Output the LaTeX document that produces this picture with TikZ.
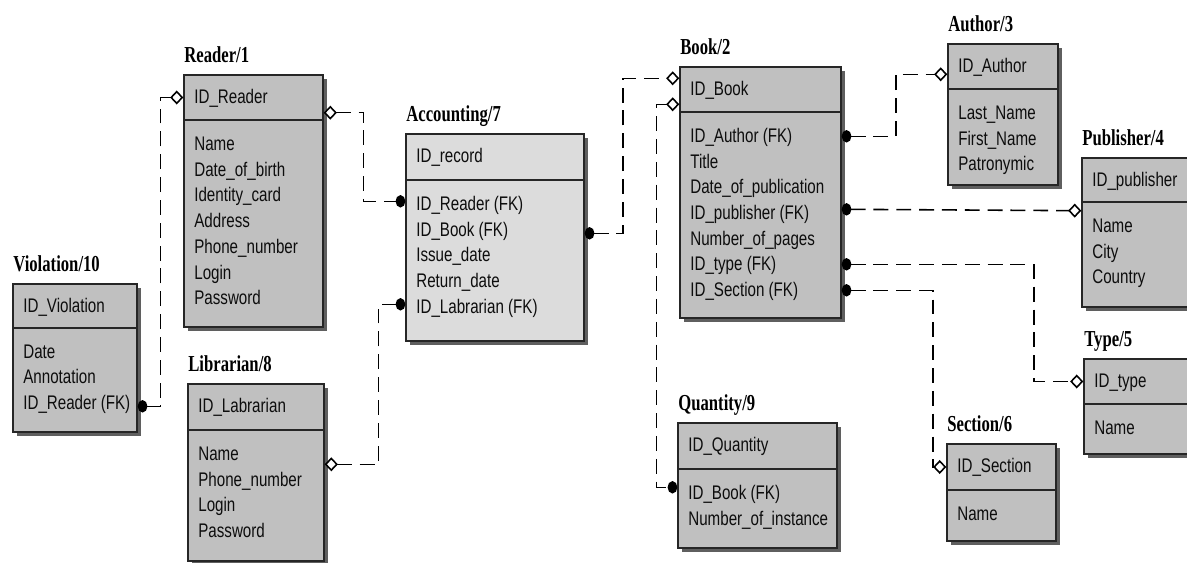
\documentclass[tikz,border=0pt]{standalone}
\usepackage{fontspec}
\setmainfont{Liberation Sans}[FakeStretch=0.77]
\newfontfamily\ttlfont{Liberation Serif}[FakeStretch=0.73]
\usetikzlibrary{arrows.meta,calc,fit,shadows}
\definecolor{boxgray}{RGB}{192,192,192}
\definecolor{acclight}{RGB}{220,220,220}
\definecolor{shadowgray}{RGB}{95,95,95}
\tikzset{
  tbl/.style={draw=black!85, fill=boxgray, line width=0.8pt, inner sep=0pt,
    general shadow={fill=shadowgray, draw=none, shadow xshift=2.3pt, shadow yshift=-2.3pt}},
  ttl/.style={anchor=base west, inner sep=0pt, font=\ttlfont\bfseries\fontsize{13}{15}\selectfont},
  fld/.style={anchor=base west, inner sep=0pt, text=black!95, font=\fontsize{11.2}{13}\selectfont},
  rel/.style={line width=0.9pt, dash pattern=on 8.5pt off 4.5pt},
  dot-dia/.style={arrows={Ellipse[length=5.5pt,width=7pt]-Diamond[fill=white,length=7.5pt,width=8pt]}},
  dia-dot/.style={arrows={Diamond[fill=white,length=7.5pt,width=8pt]-Ellipse[length=5.5pt,width=7pt]}}
}
\begin{document}
\begin{tikzpicture}[x=0.02cm, y=-0.02cm]
\useasboundingbox (0,0) rectangle (1187,563);
\clip (0,0) rectangle (1187,563);
\fill[white] (0,0) rectangle (1187,563);
% Violation
\node[ttl] (vio-title) at (13,272) {Violation/10};
\node[tbl, fit={(13,284) (137,328)}] (vio-head) {};
\node[tbl, fit={(13,328) (137,432)}] (vio-body) {};
\node[fld] (vio-id) at (23,313) {ID\_Violation};
\node[fld] (vio-date) at (23,359) {Date};
\node[fld] (vio-note) at (23,384) {Annotation};
\node[fld] (vio-reader) at (23,410) {ID\_Reader (FK)};
% Reader
\node[ttl] (rdr-title) at (184,63) {Reader/1};
\node[tbl, fit={(184,75) (323,120)}] (rdr-head) {};
\node[tbl, fit={(184,120) (323,327)}] (rdr-body) {};
\node[fld] (rdr-id) at (194,104) {ID\_Reader};
\node[fld] (rdr-name) at (194,151) {Name};
\node[fld] (rdr-birth) at (194,177) {Date\_of\_birth};
\node[fld] (rdr-card) at (194,202) {Identity\_card};
\node[fld] (rdr-addr) at (194,228) {Address};
\node[fld] (rdr-phone) at (194,254) {Phone\_number};
\node[fld] (rdr-login) at (194,280) {Login};
\node[fld] (rdr-pass) at (194,305) {Password};
% Accounting
\node[ttl] (acc-title) at (406,122) {Accounting/7};
\node[tbl, fill=acclight, fit={(406,134) (584,180)}] (acc-head) {};
\node[tbl, fill=acclight, fit={(406,180) (584,341)}] (acc-body) {};
\node[fld] (acc-id) at (416,163) {ID\_record};
\node[fld] (acc-reader) at (416,211) {ID\_Reader (FK)};
\node[fld] (acc-book) at (416,237) {ID\_Book (FK)};
\node[fld] (acc-issue) at (416,262) {Issue\_date};
\node[fld] (acc-return) at (416,288) {Return\_date};
\node[fld] (acc-lib) at (416,314) {ID\_Labrarian (FK)};
% Librarian
\node[ttl] (lib-title) at (188,372) {Librarian/8};
\node[tbl, fit={(188,384) (324,430)}] (lib-head) {};
\node[tbl, fit={(188,430) (324,561)}] (lib-body) {};
\node[fld] (lib-id) at (198,413) {ID\_Labrarian};
\node[fld] (lib-name) at (198,461) {Name};
\node[fld] (lib-phone) at (198,487) {Phone\_number};
\node[fld] (lib-login) at (198,512) {Login};
\node[fld] (lib-pass) at (198,538) {Password};
% Book
\node[ttl] (book-title) at (680,55) {Book/2};
\node[tbl, fit={(680,67) (841,112)}] (book-head) {};
\node[tbl, fit={(680,112) (841,318)}] (book-body) {};
\node[fld] (book-id) at (690,96) {ID\_Book};
\node[fld] (book-author) at (690,143) {ID\_Author (FK)};
\node[fld] (book-name) at (690,169) {Title};
\node[fld] (book-date) at (690,194) {Date\_of\_publication};
\node[fld] (book-pub) at (690,220) {ID\_publisher (FK)};
\node[fld] (book-pages) at (690,246) {Number\_of\_pages};
\node[fld] (book-type) at (690,271) {ID\_type (FK)};
\node[fld] (book-sec) at (690,297) {ID\_Section (FK)};
% Author
\node[ttl] (aut-title) at (948,32) {Author/3};
\node[tbl, fit={(948,44) (1058,89)}] (aut-head) {};
\node[tbl, fit={(948,89) (1058,185)}] (aut-body) {};
\node[fld] (aut-id) at (958,73) {ID\_Author};
\node[fld] (aut-last) at (958,120) {Last\_Name};
\node[fld] (aut-first) at (958,146) {First\_Name};
\node[fld] (aut-patr) at (958,171) {Patronymic};
% Publisher
\node[ttl] (pub-title) at (1082,146) {Publisher/4};
\node[tbl, fit={(1082,158) (1195,202)}] (pub-head) {};
\node[tbl, fit={(1082,202) (1195,307)}] (pub-body) {};
\node[fld] (pub-id) at (1092,187) {ID\_publisher};
\node[fld] (pub-name) at (1092,233) {Name};
\node[fld] (pub-city) at (1092,259) {City};
\node[fld] (pub-country) at (1092,284) {Country};
% Type
\node[ttl] (typ-title) at (1084,347) {Type/5};
\node[tbl, fit={(1084,359) (1195,404)}] (typ-head) {};
\node[tbl, fit={(1084,404) (1195,454)}] (typ-body) {};
\node[fld] (typ-id) at (1094,388) {ID\_type};
\node[fld] (typ-name) at (1094,435) {Name};
% Section
\node[ttl] (sec-title) at (947,432) {Section/6};
\node[tbl, fit={(947,444) (1056,490)}] (sec-head) {};
\node[tbl, fit={(947,490) (1056,541)}] (sec-body) {};
\node[fld] (sec-id) at (957,473) {ID\_Section};
\node[fld] (sec-name) at (957,521) {Name};
% Quantity
\node[ttl] (qty-title) at (678,411) {Quantity/9};
\node[tbl, fit={(678,423) (837,469)}] (qty-head) {};
\node[tbl, fit={(678,469) (837,548)}] (qty-body) {};
\node[fld] (qty-id) at (688,452) {ID\_Quantity};
\node[fld] (qty-book) at (688,500) {ID\_Book (FK)};
\node[fld] (qty-num) at (688,526) {Number\_of\_instance};
% relationships, left part
\draw[rel, dot-dia] ($(vio-body.north east)+(0,79)$) -- ++(23,0) |- (rdr-head.west);
\draw[rel, dia-dot] ($(rdr-head.south east)+(0,-8)$) -- ++(40,0) |- ($(acc-body.north west)+(0,22)$);
\draw[rel, dia-dot] ($(lib-body.north east)+(0,35)$) -- ++(54,0) |- ($(acc-body.north west)+(0,125)$);
\draw[rel, dot-dia] ($(acc-body.north east)+(0,54)$) -- ++(38,0) |- ($(book-head.north west)+(0,12)$);
% relationships, right part
\draw[rel, dia-dot] ($(book-head.north west)+(0,38)$) -- ++(-23,0) |- ($(qty-body.north west)+(0,19)$);
\draw[rel, dot-dia] ($(book-body.north east)+(0,25)$) -- ++(54,0) |- ($(aut-head.north west)+(0,31)$);
\draw[rel, dot-dia] ($(book-body.north east)+(0,98)$) -- ($(pub-head.south west)+(0,8)$);
\draw[rel, dot-dia] ($(book-body.north east)+(0,153)$) -- ++(192,0) |- (typ-head.west);
\draw[rel, dot-dia] ($(book-body.north east)+(0,179)$) -- ++(91,0) |- (sec-head.west);
\end{tikzpicture}
\end{document}
